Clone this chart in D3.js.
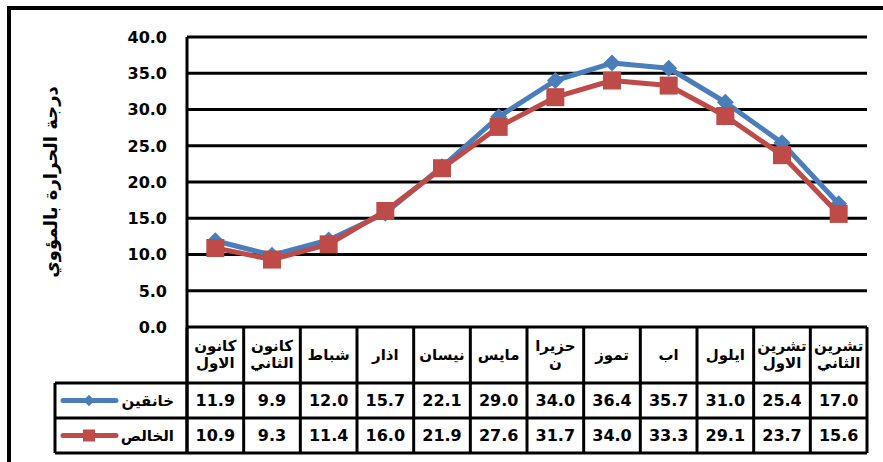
<!DOCTYPE html>
<html>
<head>
<meta charset="utf-8">
<script src="https://cdn.jsdelivr.net/npm/d3@7"></script>
<style>
  body { margin: 0; background: #fff; }
  text { font-family: "DejaVu Sans", Arial, sans-serif; font-weight: bold; }
</style>
</head>
<body>
<div id="chart"></div>
<script>
// months (left to right), multi-line labels split on "\n"
var months = ["كانون\nالاول", "كانون\nالثاني", "شباط", "اذار", "نيسان", "مايس",
              "حزيرا\nن", "تموز", "اب", "ايلول", "تشرين\nالاول", "تشرين\nالثاني"];
var khanaqin = [11.9, 9.9, 12.0, 15.7, 22.1, 29.0, 34.0, 36.4, 35.7, 31.0, 25.4, 17.0];
var khalis   = [10.9, 9.3, 11.4, 16.0, 21.9, 27.6, 31.7, 34.0, 33.3, 29.1, 23.7, 15.6];
var seriesNames = ["خانقين", "الخالص"];
var yTicks = [0, 5, 10, 15, 20, 25, 30, 35, 40];
var yTitle = "درجة الحرارة بالمؤوي";

var W = 883, H = 462;
var plot = {left: 187, right: 867, top: 37, bottom: 327};
var headH = 56, rowH = 35, legendLeft = 55;

var svg = d3.select("#chart").append("svg")
    .attr("width", W)
    .attr("height", H);

// outer frame (top and left visible)
svg.append("path")
    .attr("d", "M9,470 L9,8 L890,8")
    .attr("fill", "none")
    .attr("stroke", "#000")
    .attr("stroke-width", 4);

var x = d3.scaleBand()
    .domain(d3.range(months.length))
    .range([plot.left, plot.right]);

var y = d3.scaleLinear()
    .domain([0, 40])
    .range([plot.bottom, plot.top]);

// gridlines
svg.append("g")
    .selectAll("line")
    .data(yTicks)
    .enter().append("line")
    .attr("x1", plot.left)
    .attr("x2", plot.right)
    .attr("y1", function(d) { return y(d); })
    .attr("y2", function(d) { return y(d); })
    .attr("stroke", "#000")
    .attr("stroke-width", 3);

// y axis labels
svg.append("g")
    .selectAll("text")
    .data(yTicks)
    .enter().append("text")
    .attr("x", 167)
    .attr("y", function(d) { return y(d); })
    .attr("dy", "0.36em")
    .attr("text-anchor", "end")
    .attr("font-size", "16px")
    .text(function(d) { return d.toFixed(1); });

svg.append("text")
    .attr("transform", "translate(57,182) rotate(-90)")
    .attr("text-anchor", "middle")
    .attr("font-size", "18px")
    .text(yTitle);

// table
var tTop = plot.bottom, r1 = tTop + headH, r2 = r1 + rowH, r3 = r2 + rowH;
var grid = svg.append("g").attr("stroke", "#000").attr("stroke-width", 3);

// column dividers
grid.selectAll(".col")
    .data(d3.range(months.length + 1))
    .enter().append("line")
    .attr("x1", function(i) { return plot.left + i * x.bandwidth(); })
    .attr("x2", function(i) { return plot.left + i * x.bandwidth(); })
    .attr("y1", tTop)
    .attr("y2", r3);

[r1, r2, r3].forEach(function(yy) {
  grid.append("line").attr("x1", legendLeft).attr("x2", plot.right).attr("y1", yy).attr("y2", yy);
});
grid.append("line").attr("x1", legendLeft).attr("x2", legendLeft).attr("y1", r1).attr("y2", r3);
grid.append("line").attr("x1", plot.left).attr("x2", plot.left).attr("y1", plot.top).attr("y2", r3);

// month labels
svg.append("g")
    .selectAll("text")
    .data(months)
    .enter().append("text")
    .attr("text-anchor", "middle")
    .attr("font-size", "15px")
    .each(function(d, i) {
      var lines = d.split("\n");
      var cx = x(i) + x.bandwidth() / 2;
      var y0 = tTop + headH / 2 - (lines.length - 1) * 8.5;
      d3.select(this).selectAll("tspan")
        .data(lines)
        .enter().append("tspan")
        .attr("x", cx)
        .attr("y", function(l, k) { return y0 + k * 17; })
        .attr("dy", "0.3em")
        .text(function(l) { return l; });
    });

var series = [
  {name: seriesNames[0], values: khanaqin, color: "#4A7EBB", marker: "diamond"},
  {name: seriesNames[1], values: khalis, color: "#BE4B48", marker: "square"}
];

function markerPath(type, big) {
  var side = type === "diamond" ? (big ? 12 : 8) : (big ? 18 : 12);
  return d3.symbol().type(d3.symbolSquare).size(side * side)();
}
function markerRot(type) { return type === "diamond" ? " rotate(45)" : ""; }

series.forEach(function(s, si) {
  var rowY = r1 + si * rowH + rowH / 2;

  // values
  svg.append("g")
      .selectAll("text")
      .data(s.values)
      .enter().append("text")
      .attr("x", function(d, i) { return x(i) + x.bandwidth() / 2; })
      .attr("y", rowY)
      .attr("dy", "0.36em")
      .attr("text-anchor", "middle")
      .attr("font-size", "16px")
      .text(function(d) { return d.toFixed(1); });

  // legend key
  svg.append("line")
      .attr("x1", 63).attr("x2", 116)
      .attr("y1", rowY).attr("y2", rowY)
      .attr("stroke", s.color)
      .attr("stroke-width", 5)
      .attr("stroke-linecap", "round");
  svg.append("path")
      .attr("d", markerPath(s.marker, false))
      .attr("transform", "translate(89," + rowY + ")" + markerRot(s.marker))
      .attr("fill", s.color);
  svg.append("text")
      .attr("x", 174)
      .attr("y", rowY)
      .attr("dy", "0.35em")
      .attr("text-anchor", "end")
      .attr("font-size", "15px")
      .text(s.name);
});

// lines and markers
series.forEach(function(s) {
  var line = d3.line()
      .x(function(d, i) { return x(i) + x.bandwidth() / 2; })
      .y(function(d) { return y(d); });

  svg.append("path")
      .datum(s.values)
      .attr("d", line)
      .attr("fill", "none")
      .attr("stroke", s.color)
      .attr("stroke-width", 5)
      .attr("stroke-linejoin", "round");

  svg.append("g")
      .selectAll("path")
      .data(s.values)
      .enter().append("path")
      .attr("d", markerPath(s.marker, true))
      .attr("transform", function(d, i) {
        return "translate(" + (x(i) + x.bandwidth() / 2) + "," + y(d) + ")" + markerRot(s.marker);
      })
      .attr("fill", s.color);
});
</script>
</body>
</html>
